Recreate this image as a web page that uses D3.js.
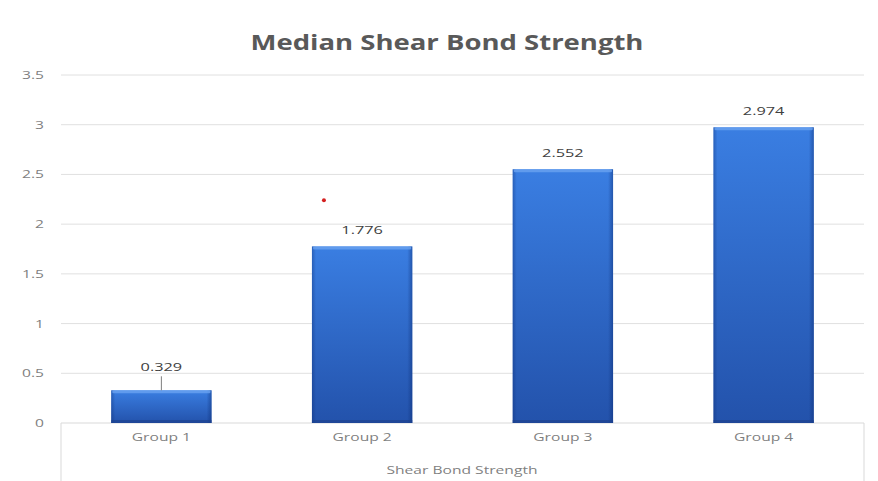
<!DOCTYPE html>
<html>
<head>
<meta charset="utf-8">
<script src="https://cdn.jsdelivr.net/npm/d3@7"></script>
<style>
  html, body { margin: 0; padding: 0; background: #fff; }
  svg { display: block; }
</style>
</head>
<body>
<svg id="chart" width="878" height="481"></svg>
<script>
const categories = ["Group 1", "Group 2", "Group 3", "Group 4"];
const values = [0.329, 1.776, 2.552, 2.974];
const valueLabels = ["0.329", "1.776", "2.552", "2.974"];
const yTicks = [0, 0.5, 1, 1.5, 2, 2.5, 3, 3.5];
const markerGroup = ["Group 2"];
const markerValue = [2.24];
const titleText = "Median Shear Bond Strength";
const axisTitle = "Shear Bond Strength";

(function () {
const W = 878, H = 481;
const pLeft = 61, pRight = 864, pTop = 75, pBottom = 423;
const SX = 1.42; // horizontal stretch of small text seen in the reference
const svg = d3.select("#chart");

const x = d3.scaleBand().domain(categories).range([pLeft, pRight]).paddingInner(0.5).paddingOuter(0.25);
const y = d3.scaleLinear().domain([0, 3.5]).range([pBottom, pTop]);

const defs = svg.append("defs");
const gv = defs.append("linearGradient").attr("id", "barV").attr("x1", 0).attr("y1", 0).attr("x2", 0).attr("y2", 1);
gv.append("stop").attr("offset", "0%").attr("stop-color", "#3a7ee2");
gv.append("stop").attr("offset", "100%").attr("stop-color", "#2352ab");
const gh = defs.append("linearGradient").attr("id", "barH").attr("x1", 0).attr("y1", 0).attr("x2", 1).attr("y2", 0);
gh.append("stop").attr("offset", "0%").attr("stop-color", "#0a2a70").attr("stop-opacity", 0.35);
gh.append("stop").attr("offset", "4%").attr("stop-color", "#0a2a70").attr("stop-opacity", 0);
gh.append("stop").attr("offset", "95%").attr("stop-color", "#0a2a70").attr("stop-opacity", 0);
gh.append("stop").attr("offset", "100%").attr("stop-color", "#0a2a70").attr("stop-opacity", 0.45);

function stretched(sel, tx, ty, sx) {
  return sel.attr("transform", (d, i) => `translate(${typeof tx === "function" ? tx(d, i) : tx},${typeof ty === "function" ? ty(d, i) : ty}) scale(${sx},1)`);
}

// title
stretched(svg.append("text"), 447, 50, 1.25).attr("text-anchor", "middle")
  .attr("font-family", "Open Sans, sans-serif").attr("font-weight", "bold").attr("font-size", 22)
  .attr("fill", "#595959").text(titleText);

// gridlines
svg.append("g").selectAll("line").data(yTicks.filter(d => d > 0)).join("line")
  .attr("x1", pLeft).attr("x2", pRight).attr("y1", d => y(d)).attr("y2", d => y(d))
  .attr("stroke", "#e0e0e0").attr("stroke-width", 1);

// y axis labels
const yAxis = d3.axisLeft(y).tickValues(yTicks).tickSize(0).tickPadding(0).tickFormat(d3.format("~g"));
const ya = svg.append("g").attr("transform", `translate(44,0)`).call(yAxis);
ya.select(".domain").remove();
ya.selectAll(".tick text").attr("font-family", "Open Sans, sans-serif").attr("font-size", 11)
  .attr("fill", "#7f7f7f").attr("x", null).attr("dy", "0.32em")
  .attr("transform", `scale(${SX},1)`);

// box below axis
svg.append("path").attr("d", `M${pLeft},${H} V${pBottom} H${pRight} V${H}`)
  .attr("fill", "none").attr("stroke", "#d9d9d9").attr("stroke-width", 1);

// bars
const bars = svg.append("g");
bars.selectAll("rect.b").data(values).join("rect").attr("class", "b")
  .attr("x", (d, i) => x(categories[i])).attr("width", x.bandwidth())
  .attr("y", d => y(d)).attr("height", d => y(0) - y(d)).attr("fill", "url(#barV)");
bars.selectAll("rect.s").data(values).join("rect").attr("class", "s")
  .attr("x", (d, i) => x(categories[i])).attr("width", x.bandwidth())
  .attr("y", d => y(d)).attr("height", d => y(0) - y(d)).attr("fill", "url(#barH)");
bars.selectAll("rect.h").data(values).join("rect").attr("class", "h")
  .attr("x", (d, i) => x(categories[i]) + 1).attr("width", x.bandwidth() - 2)
  .attr("y", d => y(d)).attr("height", 3).attr("rx", 1.5).attr("fill", "#6aa2f0").attr("opacity", 0.8);
bars.selectAll("rect.bt").data(values).join("rect").attr("class", "bt")
  .attr("x", (d, i) => x(categories[i])).attr("width", x.bandwidth())
  .attr("y", y(0) - 3).attr("height", 3).attr("fill", "#1c3f8a").attr("opacity", 0.6);

// value labels
const vl = svg.append("g").selectAll("text").data(values).join("text");
stretched(vl, (d, i) => x(categories[i]) + x.bandwidth() / 2, d => d < 0.5 ? y(d) - 19 : y(d) - 12, SX)
  .attr("text-anchor", "middle").attr("font-family", "Open Sans, sans-serif").attr("font-size", 11.5)
  .attr("fill", "#404040").text((d, i) => valueLabels[i]);
// leader line for small bar
svg.append("g").selectAll("line").data(values.filter(d => d < 0.5)).join("line")
  .attr("x1", (d) => x(categories[values.indexOf(d)]) + x.bandwidth() / 2)
  .attr("x2", (d) => x(categories[values.indexOf(d)]) + x.bandwidth() / 2)
  .attr("y1", d => y(d) - 14).attr("y2", d => y(d))
  .attr("stroke", "#7f7f7f").attr("stroke-width", 1);

// category labels
const cl = svg.append("g").selectAll("text").data(categories).join("text");
stretched(cl, d => x(d) + x.bandwidth() / 2, 441, SX).attr("text-anchor", "middle")
  .attr("font-family", "Open Sans, sans-serif").attr("font-size", 11).attr("fill", "#7f7f7f").text(d => d);

// axis title
stretched(svg.append("text"), 462, 474, SX).attr("text-anchor", "middle")
  .attr("font-family", "Open Sans, sans-serif").attr("font-size", 11).attr("fill", "#7f7f7f").text(axisTitle);

// small red marker
svg.append("g").selectAll("circle").data(markerValue).join("circle")
  .attr("cx", (d, i) => x(markerGroup[i]) + 12).attr("cy", d => y(d)).attr("r", 2)
  .attr("fill", "#d42020");
})();
</script>
</body>
</html>
